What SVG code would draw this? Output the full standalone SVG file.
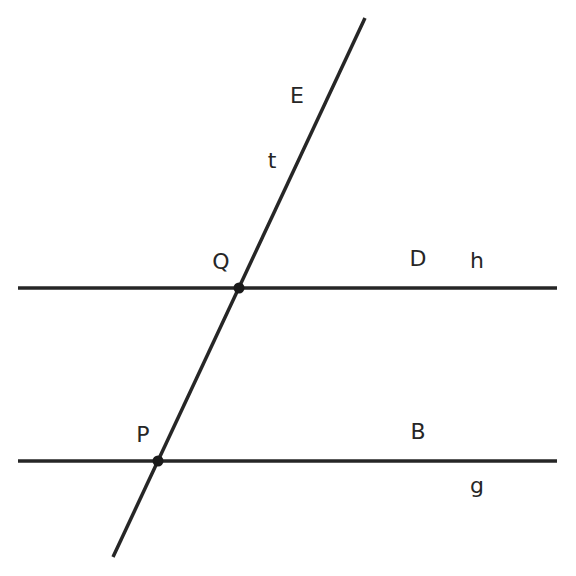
<svg xmlns="http://www.w3.org/2000/svg" width="576" height="576" viewBox="0 0 576 576">
<style>
.ln{stroke:#262626;stroke-width:3.5;fill:none;stroke-linecap:butt}
.pt{fill:#1a1a1a}
text{font-family:"DejaVu Sans",sans-serif;font-size:22px;fill:#262626;text-anchor:middle}
</style>
<rect width="576" height="576" fill="#fff"/>
<g id="connectors">
<line id="h" class="ln" x1="18" y1="288" x2="557" y2="288"/>
<line id="g" class="ln" x1="18" y1="461" x2="557" y2="461"/>
<line id="t" class="ln" x1="365" y1="18" x2="113" y2="557"/>
</g>
<g id="Q"><circle class="pt" cx="239" cy="288" r="5.5"/><text x="221" y="269">Q</text></g>
<g id="P"><circle class="pt" cx="158" cy="461" r="5.5"/><text x="143" y="442">P</text></g>
<g id="E"><text x="297" y="103">E</text></g>
<g id="tlabel"><text x="272" y="168">t</text></g>
<g id="D"><text x="418" y="266">D</text></g>
<g id="hlabel"><text x="477" y="268">h</text></g>
<g id="B"><text x="418" y="439">B</text></g>
<g id="glabel"><text x="477" y="493">g</text></g>
</svg>
